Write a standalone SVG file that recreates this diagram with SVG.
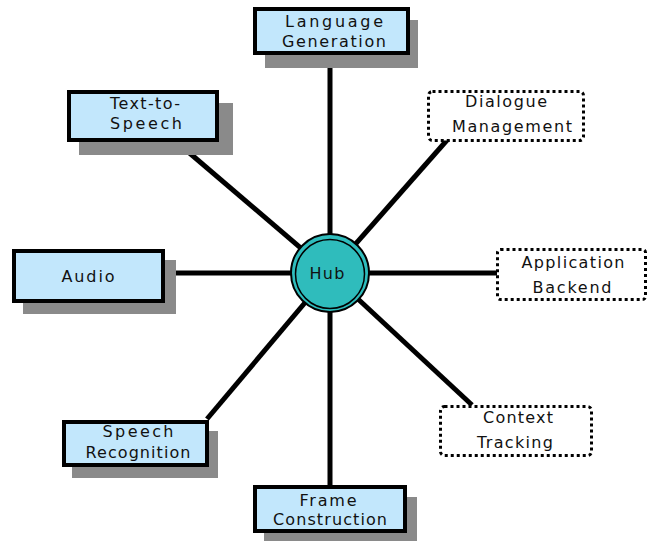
<svg xmlns="http://www.w3.org/2000/svg" width="656" height="541" viewBox="0 0 656 541">
<style>
.shadow{fill:#8a8a8a}
.box{fill:#c2e7fc;stroke:#000;stroke-width:4}
.dbox{fill:#fff;stroke:#000;stroke-width:3;stroke-dasharray:3 3}
.lbl{font-family:"DejaVu Sans",Verdana,sans-serif;font-size:16px;fill:#111;text-anchor:middle}
.conn line{stroke:#000;stroke-width:5;stroke-linecap:butt}
</style>
<rect width="656" height="541" fill="#fff"/>
<g id="connectors" class="conn">
<line x1="330" y1="273" x2="330" y2="60"/>
<line x1="330" y1="273" x2="186" y2="150"/>
<line x1="330" y1="273" x2="448" y2="139"/>
<line x1="330" y1="273" x2="170" y2="273"/>
<line x1="330" y1="273" x2="497" y2="273"/>
<line x1="330" y1="273" x2="207" y2="419"/>
<line x1="330" y1="273" x2="472" y2="405"/>
<line x1="330" y1="273" x2="330" y2="486"/>
</g>
<g id="language-generation">
<rect class="shadow" x="265" y="20" width="153" height="48"/>
<rect class="box" x="255" y="9" width="153" height="44"/>
<text class="lbl" x="334" y="27" textLength="98" lengthAdjust="spacing">Language</text>
<text class="lbl" x="334" y="47" textLength="104" lengthAdjust="spacing">Generation</text>
</g>
<g id="text-to-speech">
<rect class="shadow" x="79" y="103" width="154" height="52"/>
<rect class="box" x="69" y="92" width="148" height="48"/>
<text class="lbl" x="145" y="109" textLength="70" lengthAdjust="spacing">Text-to-</text>
<text class="lbl" x="146" y="129" textLength="72" lengthAdjust="spacing">Speech</text>
</g>
<g id="dialogue-management">
<rect class="dbox" x="428.5" y="91.5" width="155" height="49" rx="4"/>
<text class="lbl" x="506" y="107" textLength="82" lengthAdjust="spacing">Dialogue</text>
<text class="lbl" x="512" y="132" textLength="120" lengthAdjust="spacing">Management</text>
</g>
<g id="audio">
<rect class="shadow" x="23" y="260" width="153" height="54"/>
<rect class="box" x="14" y="251" width="149" height="50"/>
<text class="lbl" x="88" y="282" textLength="53" lengthAdjust="spacing">Audio</text>
</g>
<g id="application-backend">
<rect class="dbox" x="497.5" y="249.5" width="148" height="50" rx="3"/>
<text class="lbl" x="573" y="268" textLength="103" lengthAdjust="spacing">Application</text>
<text class="lbl" x="572" y="293" textLength="79" lengthAdjust="spacing">Backend</text>
</g>
<g id="speech-recognition">
<rect class="shadow" x="72" y="431" width="146" height="47"/>
<rect class="box" x="64" y="422" width="143" height="43"/>
<text class="lbl" x="138" y="437" textLength="71" lengthAdjust="spacing">Speech</text>
<text class="lbl" x="138" y="458" textLength="105" lengthAdjust="spacing">Recognition</text>
</g>
<g id="context-tracking">
<rect class="dbox" x="440.5" y="406.5" width="151" height="49" rx="4"/>
<text class="lbl" x="518" y="423" textLength="70" lengthAdjust="spacing">Context</text>
<text class="lbl" x="515" y="448" textLength="76" lengthAdjust="spacing">Tracking</text>
</g>
<g id="frame-construction">
<rect class="shadow" x="264" y="497" width="153" height="48"/>
<rect class="box" x="255" y="487" width="150" height="44"/>
<text class="lbl" x="328" y="506" textLength="57" lengthAdjust="spacing">Frame</text>
<text class="lbl" x="330" y="525" textLength="114" lengthAdjust="spacing">Construction</text>
</g>
<g id="hub">
<circle cx="330" cy="273" r="39" fill="#2fbcbc" stroke="#000" stroke-width="2"/>
<circle cx="330" cy="274" r="34.5" fill="none" stroke="#000" stroke-width="1.5"/>
<text class="lbl" x="327" y="279" textLength="35" lengthAdjust="spacing">Hub</text>
</g>
</svg>
